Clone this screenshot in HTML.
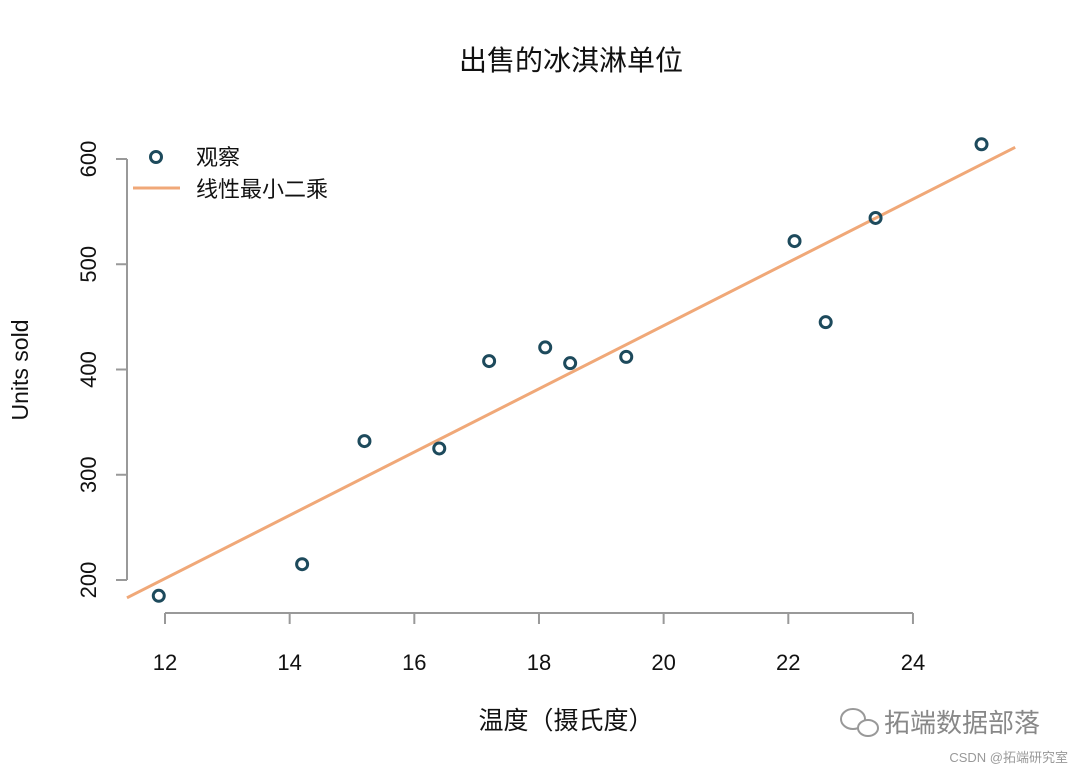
<!DOCTYPE html>
<html><head><meta charset="utf-8"><style>
body{margin:0;background:#fff;}
svg text{font-family:"Liberation Sans","Noto Sans CJK SC",sans-serif;}
</style></head><body>
<svg id="chart" width="1080" height="771" viewBox="0 0 1080 771" xmlns="http://www.w3.org/2000/svg">
<text x="571" y="70" text-anchor="middle" font-size="28" fill="#111">出售的冰淇淋单位</text>
<g id="axes"></g>
<g id="marks"></g>
<text x="566" y="729" text-anchor="middle" font-size="25" fill="#111">温度（摄氏度）</text>
<text transform="translate(28,370) rotate(-90)" text-anchor="middle" font-size="23" fill="#111">Units sold</text>
<g>
<circle cx="156" cy="157" r="5.5" fill="none" stroke="#1d4a5c" stroke-width="3"/>
<text x="196" y="165" font-size="22" fill="#111">观察</text>
<line x1="133" y1="188" x2="180" y2="188" stroke="#f0a878" stroke-width="3"/>
<text x="196" y="197" font-size="22" fill="#111">线性最小二乘</text>
</g>
<g>
<ellipse cx="853" cy="719" rx="12" ry="10" fill="none" stroke="#999" stroke-width="2"/>
<ellipse cx="868" cy="728" rx="10" ry="8" fill="#fff" stroke="#999" stroke-width="2"/>
<text x="884" y="732" font-size="26" fill="#888">拓端数据部落</text>
<text x="1068" y="762" text-anchor="end" font-size="13" fill="#999">CSDN @拓端研究室</text>
</g>
</svg>
<script>
const temps=[11.9,14.2,15.2,16.4,17.2,18.1,18.5,19.4,22.1,22.6,23.4,25.1];
const units=[185,215,332,325,408,421,406,412,522,445,544,614];
const xTicks=[12,14,16,18,20,22,24];
const yTicks=[200,300,400,500,600];
const fitSlope=30.04;
const fitIntercept=-159.1;
const xs=v=>165+(v-12)*62.33;
const ys=v=>580-(v-200)*1.0525;
const NS='http://www.w3.org/2000/svg';
const axes=document.getElementById('axes'), marks=document.getElementById('marks');
function mk(tag,attrs,parent){const e=document.createElementNS(NS,tag);for(const k in attrs)e.setAttribute(k,attrs[k]);parent.appendChild(e);return e;}
let ax=mk('line',{x1:xs(xTicks[0]),x2:xs(xTicks[xTicks.length-1]),y1:613,y2:613,stroke:'#999','stroke-width':2},axes);


xTicks.forEach(t=>{
 const l=mk('line',{x1:xs(t),x2:xs(t),y1:613,y2:624,stroke:'#999','stroke-width':2},axes);
 
 
 const tx=mk('text',{x:xs(t),y:670,'text-anchor':'middle','font-size':22,fill:'#111'},axes);tx.textContent=t;
 
 
});
let ay=mk('line',{x1:127,x2:127,y1:ys(yTicks[0]),y2:ys(yTicks[yTicks.length-1]),stroke:'#999','stroke-width':2},axes);


yTicks.forEach(t=>{
 const l=mk('line',{x1:116,x2:127,y1:ys(t),y2:ys(t),stroke:'#999','stroke-width':2},axes);
 
 
 const tx=mk('text',{transform:`translate(96,${ys(t)}) rotate(-90)`,'text-anchor':'middle','font-size':22,fill:'#111'},axes);tx.textContent=t;
 
 
});
const x0=11.39,x1=25.64;
const fl=mk('line',{x1:xs(x0),y1:ys(fitIntercept+fitSlope*x0),x2:xs(x1),y2:ys(fitIntercept+fitSlope*x1),stroke:'#f0a878','stroke-width':3},marks);


temps.forEach((t,i)=>{
 const c=mk('circle',{cx:xs(t),cy:ys(units[i]),r:5.5,fill:'none',stroke:'#1d4a5c','stroke-width':3},marks);
 
 
});
</script>
</body></html>
